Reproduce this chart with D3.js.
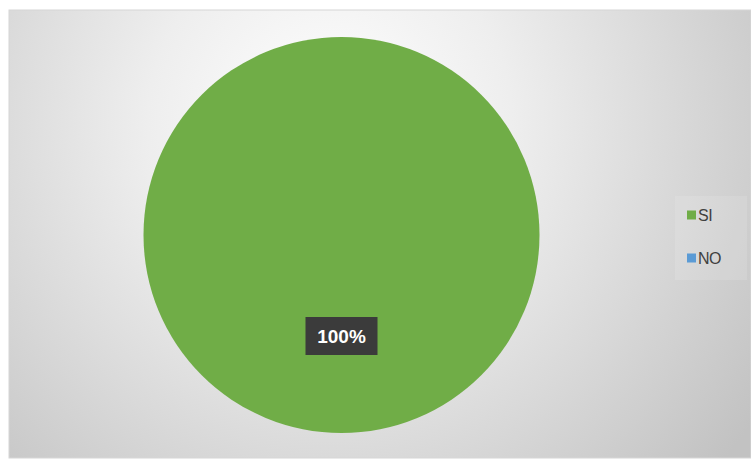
<!DOCTYPE html>
<html>
<head>
<meta charset="utf-8">
<script src="https://cdn.jsdelivr.net/npm/d3@7"></script>
<style>
  html, body { margin: 0; padding: 0; background: #ffffff; }
  svg { display: block; }
</style>
</head>
<body>
<svg id="chart" width="751" height="463"></svg>
<script>
// Survey answers and their shares
const categories = ["SI", "NO"];
const values = [100, 0];
const colors = ["#70ad47", "#5b9bd5"];

const svg = d3.select("#chart");
const W = 751, H = 463;

// Plot frame with soft radial shading
const defs = svg.append("defs");
const bg = defs.append("radialGradient")
  .attr("id", "bgGrad")
  .attr("gradientUnits", "userSpaceOnUse")
  .attr("cx", 330).attr("cy", 120).attr("r", 520);
bg.append("stop").attr("offset", "0%").attr("stop-color", "#ffffff");
bg.append("stop").attr("offset", "35%").attr("stop-color", "#eeeeee");
bg.append("stop").attr("offset", "100%").attr("stop-color", "#c2c2c2");

svg.append("rect")
  .attr("x", 9).attr("y", 10)
  .attr("width", W - 9).attr("height", 448)
  .attr("fill", "url(#bgGrad)")
  .attr("stroke", "#d6d6d6").attr("stroke-width", 1);

// Pie
const cx = 341.5, cy = 235, radius = 198;
const pie = d3.pie().sort(null).value(d => d.v);
const arcs = pie(categories.map((c, i) => ({ c, v: values[i], color: colors[i] })));
const arc = d3.arc().innerRadius(0).outerRadius(radius);
const labelArc = d3.arc().innerRadius(0).outerRadius(radius);

const g = svg.append("g").attr("transform", `translate(${cx},${cy})`);
g.selectAll("path.slice")
  .data(arcs.filter(d => d.data.v > 0))
  .join("path")
  .attr("class", "slice")
  .attr("d", arc)
  .attr("fill", d => d.data.color);

// Percentage labels in dark boxes
const total = d3.sum(values);
const fmt = d => Math.round(d / total * 100) + "%";
const labels = g.selectAll("g.lbl")
  .data(arcs.filter(d => d.data.v > 0))
  .join("g")
  .attr("class", "lbl")
  .attr("transform", d => {
    const [x, y] = labelArc.centroid(d);
    return `translate(${x},${y + 2})`;
  });
labels.append("rect")
  .attr("x", -36).attr("y", -19)
  .attr("width", 72).attr("height", 38)
  .attr("fill", "#3b3b3b");
labels.append("text")
  .attr("text-anchor", "middle")
  .attr("dy", "0.36em")
  .attr("fill", "#ffffff")
  .attr("font-family", "'Liberation Sans Narrow', 'Liberation Sans', Arial, sans-serif")
  .attr("font-weight", "bold")
  .attr("font-size", 19)
  .text(d => fmt(d.data.v));

// Legend
const legend = svg.append("g").attr("transform", "translate(675,196)");
legend.append("rect")
  .attr("x", 0).attr("y", 0)
  .attr("width", 72).attr("height", 84)
  .attr("fill", "#ffffff").attr("fill-opacity", 0.12);
const items = legend.selectAll("g.item")
  .data(categories)
  .join("g")
  .attr("class", "item")
  .attr("transform", (d, i) => `translate(12,${19 + i * 43})`);
items.append("rect")
  .attr("x", 0).attr("y", -4.5)
  .attr("width", 9).attr("height", 9)
  .attr("fill", (d, i) => colors[i]);
items.append("text")
  .attr("x", 11).attr("y", 0)
  .attr("dy", "0.36em")
  .attr("fill", "#404040")
  .attr("font-family", "'Liberation Sans Narrow', 'Liberation Sans', Arial, sans-serif")
  .attr("font-size", 16)
  .attr("letter-spacing", -0.5)
  .text(d => d);
</script>
</body>
</html>
